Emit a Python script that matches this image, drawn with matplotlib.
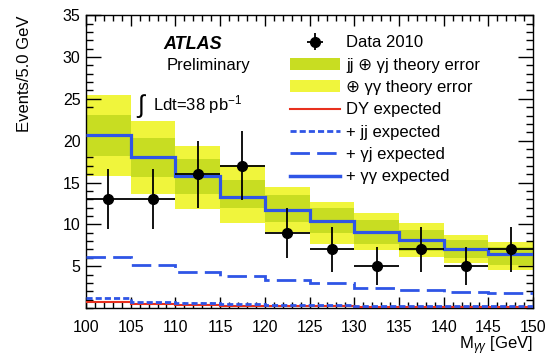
import numpy as np
import matplotlib
matplotlib.use("Agg")
import matplotlib.pyplot as plt
from matplotlib.lines import Line2D
from matplotlib.patches import Patch
from matplotlib.ticker import MultipleLocator

plt.rcParams['font.family'] = ['Liberation Sans', 'DejaVu Sans']
plt.rcParams['mathtext.fontset'] = 'custom'
plt.rcParams['mathtext.rm'] = 'Liberation Sans'
plt.rcParams['mathtext.it'] = 'Liberation Sans:italic'

# Diphoton invariant mass bins [GeV]
bin_edges = [100, 105, 110, 115, 120, 125, 130, 135, 140, 145, 150]
bin_centers = [102.5, 107.5, 112.5, 117.5, 122.5, 127.5, 132.5, 137.5, 142.5, 147.5]

# Observed events (Data 2010)
data_counts = [13, 13, 16, 17, 9, 7, 5, 7, 5, 7]

# Stacked expectations (cumulative)
dy_expected = [0.75, 0.5, 0.35, 0.28, 0.22, 0.18, 0.15, 0.12, 0.1, 0.08]
jj_expected = [1.15, 0.7, 0.55, 0.45, 0.38, 0.33, 0.28, 0.25, 0.22, 0.2]
gj_expected = [6.1, 5.1, 4.35, 3.85, 3.35, 2.95, 2.45, 2.15, 1.95, 1.75]
gg_expected = [20.7, 18.0, 15.8, 13.3, 11.7, 10.4, 9.1, 8.1, 7.1, 6.45]

# Theory uncertainty bands
jj_gj_err_low = [18.2, 15.6, 13.6, 11.9, 10.3, 9.0, 7.7, 6.8, 6.0, 5.1]
jj_gj_err_high = [23.1, 20.3, 17.8, 15.3, 13.5, 11.9, 10.5, 9.3, 8.1, 7.3]
gg_err_low = [15.8, 13.6, 11.8, 10.2, 9.1, 7.7, 6.9, 6.05, 5.4, 4.6]
gg_err_high = [25.4, 22.3, 19.4, 17.1, 14.5, 12.7, 11.3, 10.1, 8.7, 7.9]

yellow = '#f0f53c'
olive = '#c8dd22'
blue = '#2f55e6'
red = '#e8301e'

dotted = (0, (2.2, 1.1))
dashed = (0, (7, 2.6))

fig = plt.figure(figsize=(5.49, 3.61), dpi=100)
ax = fig.add_axes([0.1566, 0.1468, 0.8144, 0.8112])

ax.stairs(gg_err_high, bin_edges, baseline=gg_err_low, fill=True,
          color=yellow, lw=0, zorder=1)
ax.stairs(jj_gj_err_high, bin_edges, baseline=jj_gj_err_low, fill=True,
          color=olive, lw=0, zorder=2)

ax.stairs(dy_expected, bin_edges, baseline=None, color=red, lw=1.5, zorder=3)
ax.stairs(jj_expected, bin_edges, baseline=None, color=blue, lw=2.0,
          linestyle=dotted, zorder=3)
ax.stairs(gj_expected, bin_edges, baseline=None, color=blue, lw=2.0,
          linestyle=dashed, zorder=3)
ax.stairs(gg_expected, bin_edges, baseline=None, color=blue, lw=2.3, zorder=4)

yerr = np.sqrt(np.array(data_counts, dtype=float))
data_eb = ax.errorbar(bin_centers, data_counts, xerr=2.5, yerr=yerr, fmt='o',
                      color='black', ms=7, elinewidth=1.3, capsize=0, zorder=5)

ax.set_xlim(100, 150)
ax.set_ylim(0, 35)
ax.xaxis.set_major_locator(MultipleLocator(5))
ax.xaxis.set_minor_locator(MultipleLocator(1))
ax.set_yticks([5, 10, 15, 20, 25, 30, 35])
ax.yaxis.set_minor_locator(MultipleLocator(1))
ax.tick_params(which='both', direction='in', top=True, right=True,
               labelsize=11.5, width=1.0)
ax.tick_params(axis='x', which='major', length=8, pad=8.5)
ax.tick_params(axis='x', which='minor', length=4)
ax.tick_params(axis='y', which='major', length=11, pad=4)
ax.tick_params(axis='y', which='minor', length=5)
for s in ax.spines.values():
    s.set_linewidth(1.0)

ax.set_ylabel('Events/5.0 GeV', fontsize=12, loc='top', labelpad=22)
ax.set_xlabel(r'M$_{\gamma\gamma}$ [GeV]', fontsize=12, loc='right', labelpad=0)

ax.text(0.172, 0.899, 'ATLAS', transform=ax.transAxes, fontsize=13,
        fontweight='bold', style='italic', ha='left', va='center')
ax.text(0.181, 0.829, 'Preliminary', transform=ax.transAxes, fontsize=12,
        ha='left', va='center')
ax.text(0.112, 0.69, r'$\int$', transform=ax.transAxes, fontsize=18,
        ha='left', va='center')
ax.text(0.15, 0.696, 'Ldt=38 pb$^{-1}$', transform=ax.transAxes, fontsize=12,
        ha='left', va='center')

handles = [
    data_eb,
    Patch(facecolor=olive, edgecolor='none'),
    Patch(facecolor=yellow, edgecolor='none'),
    Line2D([], [], color=red, lw=1.5),
    Line2D([], [], color=blue, lw=2.0, linestyle=dotted),
    Line2D([], [], color=blue, lw=2.0, linestyle=dashed),
    Line2D([], [], color=blue, lw=2.5),
]
labels = [
    'Data 2010',
    'jj ⊕ γj theory error',
    '⊕ γγ theory error',
    'DY expected',
    '+ jj expected',
    '+ γj expected',
    '+ γγ expected',
]
leg = ax.legend(handles, labels, loc='upper left', bbox_to_anchor=(0.456, 0.931),
                frameon=False, fontsize=12, handlelength=3.0,
                handletextpad=0.38, labelspacing=0.44, borderaxespad=0,
                borderpad=0)

fig.savefig('out.png', dpi=100)
